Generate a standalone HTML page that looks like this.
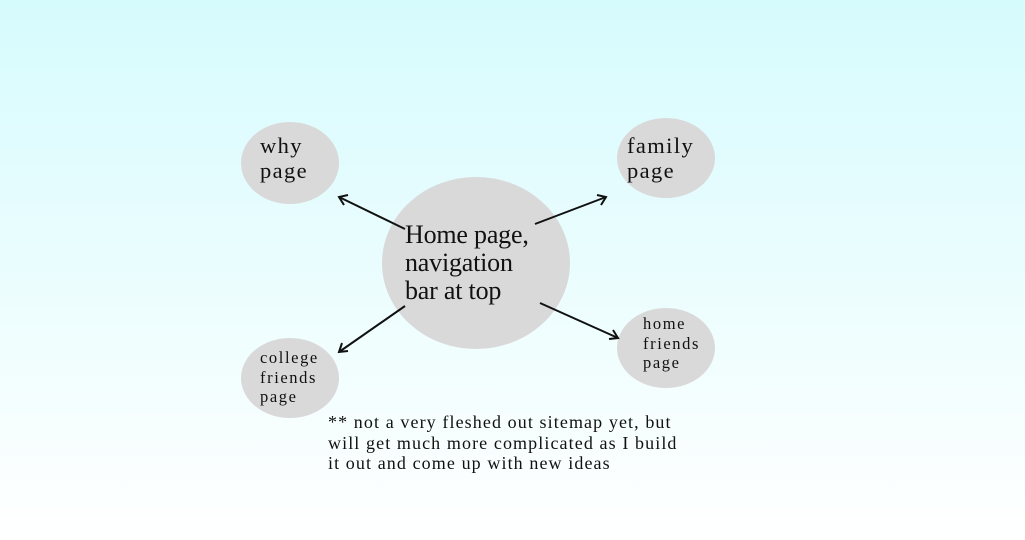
<!DOCTYPE html>
<html><head><meta charset="utf-8"><style>
html,body{margin:0;padding:0;}
body{width:1025px;height:540px;background:linear-gradient(#d6fbfd,#ffffff);overflow:hidden;position:relative;font-family:"Liberation Serif",serif;color:#111;}
svg{position:absolute;left:0;top:0;}
.t{position:absolute;white-space:nowrap;}
</style></head><body>
<svg width="1025" height="540">
<ellipse cx="476" cy="263" rx="94" ry="86" fill="#d9d9d9"/>
<ellipse cx="290" cy="163" rx="49" ry="41" fill="#d9d9d9"/>
<ellipse cx="666" cy="158" rx="49" ry="40" fill="#d9d9d9"/>
<ellipse cx="290" cy="378" rx="49" ry="40" fill="#d9d9d9"/>
<ellipse cx="666" cy="348" rx="49" ry="40" fill="#d9d9d9"/>
<g stroke="#111" stroke-width="2" fill="none">
<line x1="405" y1="229" x2="339" y2="197"/><polyline points="348,195 339,197 344,205"/>
<line x1="535" y1="224" x2="606" y2="197"/><polyline points="597,195 606,197 601,205"/>
<line x1="405" y1="306" x2="339" y2="352"/><polyline points="342,343 339,352 348,351"/>
<line x1="540" y1="303" x2="618" y2="338"/><polyline points="613,330 618,338 609,339"/>
</g>
</svg>
<div class="t" style="left:405px;top:221px;font-size:26px;line-height:28px;letter-spacing:-0.2px;">Home page,<br>navigation<br>bar at top</div>
<div class="t" style="left:260px;top:133px;font-size:22.5px;line-height:25px;letter-spacing:1.4px;">why<br>page</div>
<div class="t" style="left:627px;top:133px;font-size:22.5px;line-height:25px;letter-spacing:1.4px;">family<br>page</div>
<div class="t" style="left:260px;top:348px;font-size:16.5px;line-height:19.5px;letter-spacing:1.6px;">college<br>friends<br>page</div>
<div class="t" style="left:643px;top:314px;font-size:16.5px;line-height:19.5px;letter-spacing:1.6px;">home<br>friends<br>page</div>
<div class="t" style="left:328px;top:412px;font-size:18px;line-height:20.5px;letter-spacing:1.1px;">** not a very fleshed out sitemap yet, but<br>will get much more complicated as I build<br>it out and come up with new ideas</div>
</body></html>
